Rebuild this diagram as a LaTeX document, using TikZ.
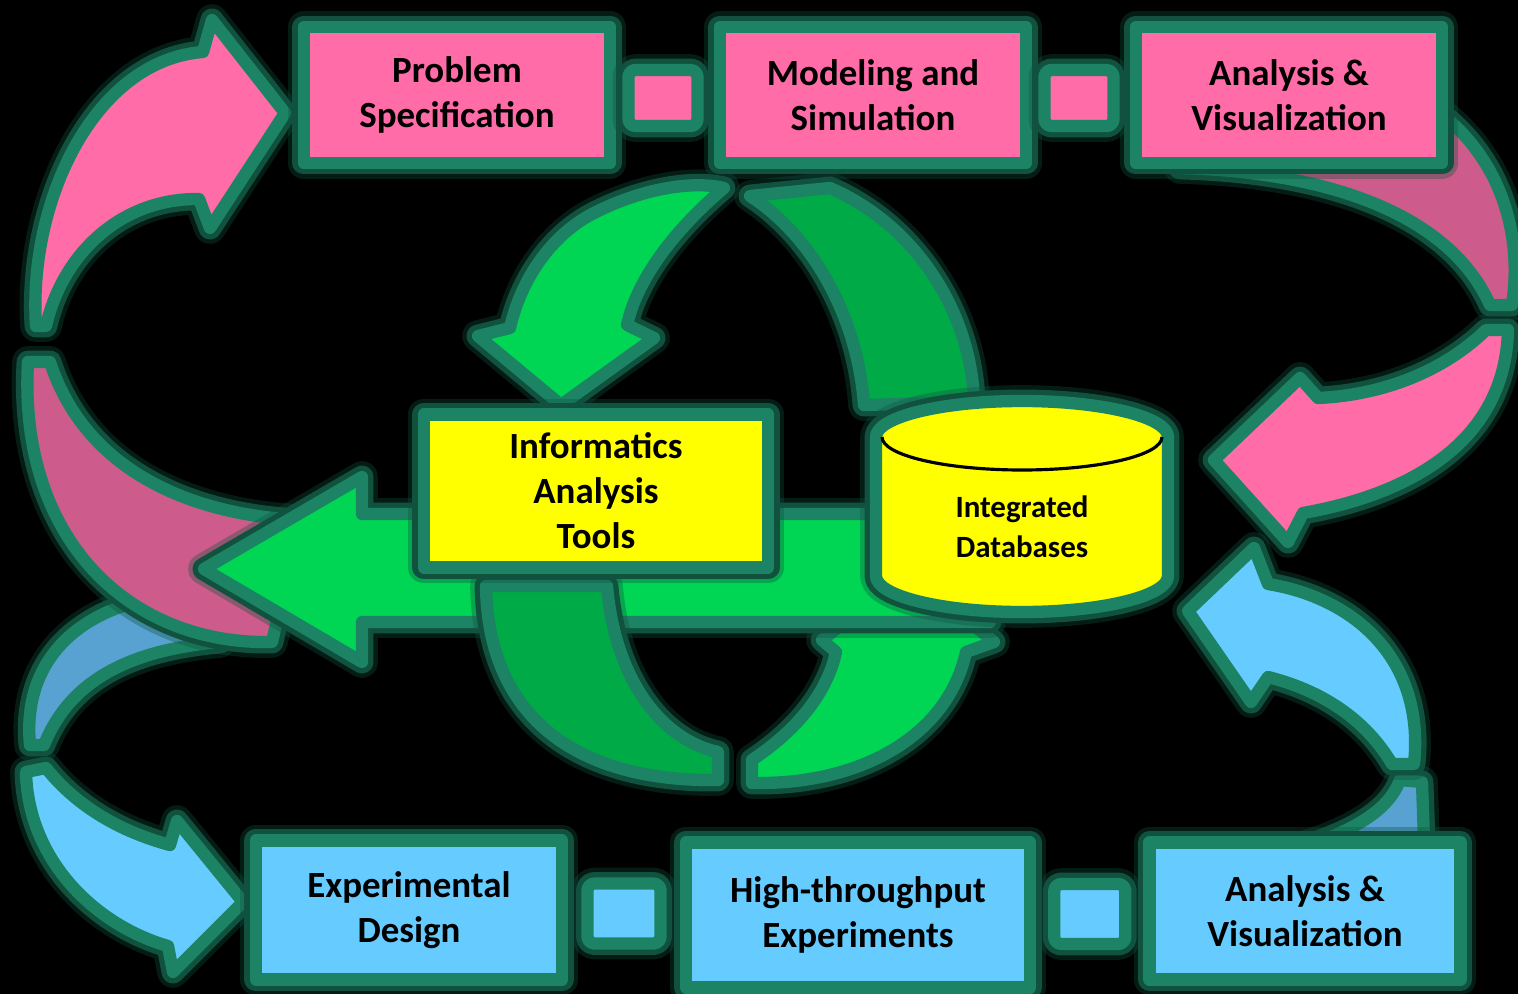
\documentclass[tikz,border=0pt]{standalone}
\usepackage{fontspec}
\setmainfont{Carlito}
\usetikzlibrary{calc}

\definecolor{rim}{RGB}{28,132,100}
\definecolor{rimglow}{RGB}{16,82,62}
\definecolor{pinkfill}{RGB}{255,108,168}
\definecolor{pinkdark}{RGB}{205,92,140}
\definecolor{bluefill}{RGB}{102,204,255}
\definecolor{bluedark}{RGB}{88,162,210}
\definecolor{greenfill}{RGB}{0,214,84}
\definecolor{greendark}{RGB}{0,170,70}
\definecolor{dbyellow}{RGB}{255,255,0}

\tikzset{
  rimmed/.style={preaction={draw=rimglow, line width=9pt, draw opacity=0.35, line join=round},
    preaction={draw=rimglow, line width=6.5pt, line join=round},
    draw=rim, line width=3.5pt, line join=round},
  stagebox/.style={rimmed, rectangle, inner sep=0pt, align=center,
    minimum width=3.06cm, minimum height=1.36cm,
    font=\bfseries\fontsize{10.5}{12.8}\selectfont},
  linkbox/.style={rimmed, rectangle, rounded corners=2pt, inner sep=0pt,
    minimum width=0.69cm, minimum height=0.56cm},
}

\begin{document}
\begin{tikzpicture}[x=0.01cm, y=-0.01cm]
    \useasboundingbox (0,0) rectangle (1518,994);
    \clip (0,0) rectangle (1518,994);
    \fill[black] (0,0) rectangle (1518,994);

    % bands that run behind the other shapes
    \filldraw[rimmed, fill=bluedark] (30,745) .. controls (20,640) and (110,585) .. (230,595)
        -- (220,642) .. controls (130,650) and (70,680) .. (44,745) -- cycle;
    \filldraw[rimmed, fill=pinkdark] (28,362) .. controls (18,540) and (130,645) .. (272,642)
        -- (300,520) .. controls (190,515) and (85,470) .. (50,362) -- cycle;
    \filldraw[rimmed, fill=pinkdark] (1180,168) .. controls (1330,172) and (1450,215) .. (1490,305)
        -- (1512,305) .. controls (1525,220) and (1490,140) .. (1420,100) -- cycle;
    \filldraw[rimmed, fill=bluedark] (1400,780) -- (1422,782) -- (1425,870) -- (1215,870)
        .. controls (1330,845) and (1385,820) .. (1400,780) -- cycle;
    \filldraw[rimmed, fill=greendark] (750,196) -- (830,188) .. controls (922,228) and (972,320) .. (974,402)
        -- (864,405) .. controls (858,320) and (815,238) .. (750,196) -- cycle;

    % curved arrows of the two loops
    \filldraw[rimmed, fill=pinkfill] (36,326) .. controls (28,200) and (95,60) .. (203,52)
        -- (212,20) -- (285,113) -- (210,228) -- (199,199)
        .. controls (120,198) and (62,255) .. (46,326) -- cycle;
    \filldraw[rimmed, fill=pinkfill] (1486,330) .. controls (1445,370) and (1385,395) .. (1318,398)
        -- (1300,378) -- (1214,460) -- (1288,542) -- (1303,513)
        .. controls (1405,495) and (1505,445) .. (1508,330) -- cycle;
    \filldraw[rimmed, fill=bluefill] (1392,764) .. controls (1365,718) and (1320,690) .. (1268,677)
        -- (1251,702) -- (1188,611) -- (1254,548) -- (1268,584)
        .. controls (1355,598) and (1425,660) .. (1414,764) -- cycle;
    \filldraw[rimmed, fill=bluefill] (26,772) -- (46,768) .. controls (78,808) and (122,832) .. (170,845)
        -- (177,821) -- (243,902) -- (173,972) -- (168,946)
        .. controls (95,925) and (28,860) .. (26,772) -- cycle;

    % green arrows round the tools
    \filldraw[rimmed, fill=greenfill] (596,212) .. controls (640,190) and (690,180) .. (724,188)
        .. controls (680,225) and (638,275) .. (627,325)
        -- (654,338) -- (561,405) -- (478,336) -- (510,328)
        .. controls (522,275) and (555,232) .. (596,212) -- cycle;
    \filldraw[rimmed, fill=greenfill] (752,760) .. controls (800,728) and (828,690) .. (836,652)
        -- (822,640) -- (910,572) -- (994,642) -- (966,652)
        .. controls (948,735) and (862,785) .. (752,783) -- cycle;
    \filldraw[rimmed, fill=greenfill] (990,514) -- (362,514) -- (362,477) -- (204,569)
        -- (362,662) -- (362,622) -- (990,622) -- cycle;
    \filldraw[rimmed, fill=greendark] (486,586) -- (607,586) .. controls (615,680) and (662,740) .. (718,752)
        -- (718,780) .. controls (580,782) and (488,720) .. (486,586) -- cycle;

    % top row
    \node[stagebox, fill=pinkfill] (spec) at (457,95) {Problem\\Specification};
    \node[stagebox, fill=pinkfill] (model) at (873,95) {Modeling and\\Simulation};
    \node[stagebox, fill=pinkfill] (viewtop) at (1289,95) {Analysis \&\\Visualization};
    \node[linkbox, fill=pinkfill] (lnkA) at ($(spec.east)!.5!(model.west)+(-2,3)$) {};
    \node[linkbox, fill=pinkfill] (lnkB) at ($(model.east)!.5!(viewtop.west)+(-2,3)$) {};

    % bottom row
    \node[stagebox, fill=bluefill, minimum height=1.39cm] (design) at (409,910) {Experimental\\Design};
    \node[stagebox, fill=bluefill, minimum width=3.44cm, minimum height=1.45cm] (htp) at (858,915) {High-throughput\\Experiments};
    \node[stagebox, fill=bluefill, minimum width=3.11cm, minimum height=1.37cm] (viewbot) at (1305,911) {Analysis \&\\Visualization};
    \node[linkbox, fill=bluefill, minimum width=0.73cm, minimum height=0.6cm] (lnkC) at ($(design.east)!.5!(htp.west)+(0,1)$) {};
    \node[linkbox, fill=bluefill, minimum width=0.71cm, minimum height=0.6cm] (lnkD) at ($(htp.east)!.5!(viewbot.west)+(0,1)$) {};

    % middle
    \node[stagebox, fill=dbyellow, minimum width=3.44cm, minimum height=1.53cm] (tools) at (596,491) {Informatics\\Analysis\\Tools};
    \filldraw[rimmed, fill=dbyellow] (876,437) -- (876,576) arc[start angle=180, end angle=0, x radius=146, y radius=36]
        -- (1168,437) arc[start angle=0, end angle=-180, x radius=146, y radius=36] -- cycle;
    \draw[black, line width=0.9pt] (882,437) arc[start angle=180, end angle=0, x radius=140, y radius=33];
    \node[align=center, font=\bfseries\fontsize{8.8}{11.4}\selectfont] (store) at (1022,527) {Integrated\\Databases};
\end{tikzpicture}
\end{document}
